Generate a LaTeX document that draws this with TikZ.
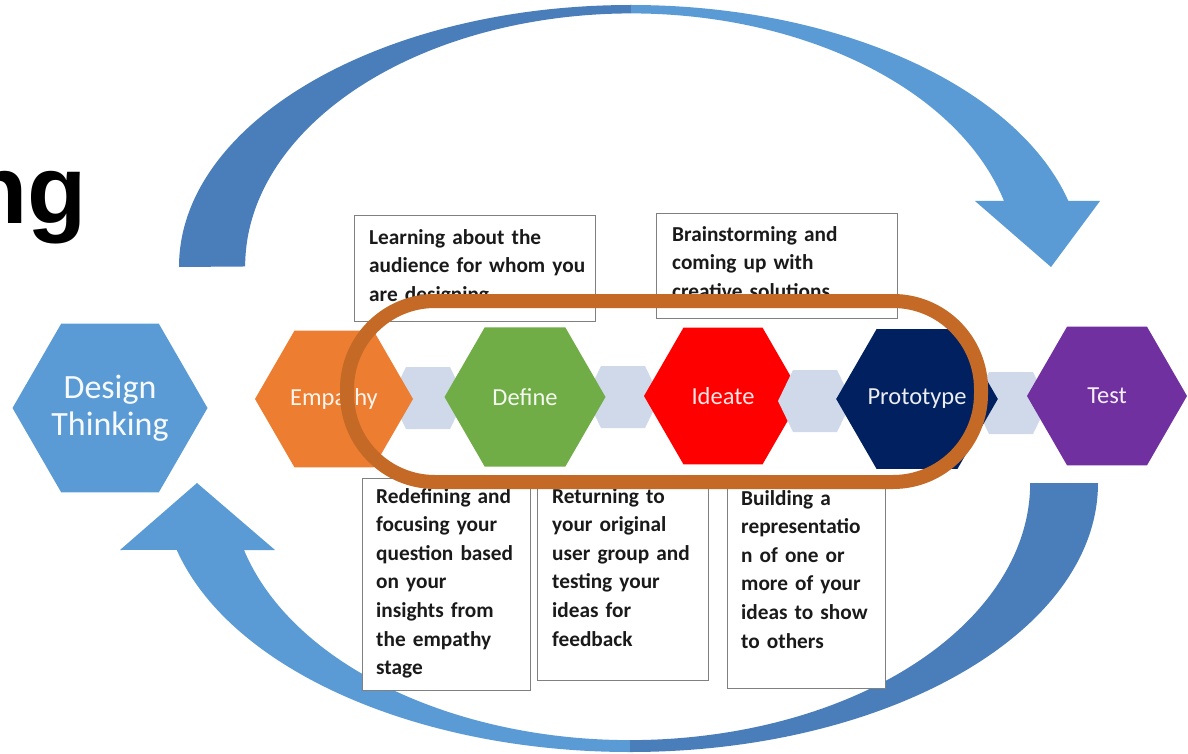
\documentclass[tikz,border=0pt]{standalone}
\usepackage{fontspec}
\setmainfont{Carlito}
\newfontfamily\titlefont{Liberation Sans}
\usetikzlibrary{shapes.geometric,calc}
\definecolor{arcdark}{HTML}{4A7EBB}
\definecolor{arclight}{HTML}{5B9BD5}
\definecolor{dtblue}{HTML}{5B9BD5}
\definecolor{emporange}{HTML}{ED7D31}
\definecolor{defgreen}{HTML}{70AD47}
\definecolor{idered}{HTML}{FF0000}
\definecolor{pronavy}{HTML}{002060}
\definecolor{testpurple}{HTML}{7030A0}
\definecolor{connfill}{HTML}{CFD9EA}
\definecolor{loopcol}{HTML}{C46A26}
\definecolor{boxline}{HTML}{808080}
\definecolor{boxtextcol}{HTML}{1A1A1A}
\def\dtTopArc{(179,267) arc[start angle=180, end angle=14.6, x radius=452pt, y radius=262pt]
  -- (1100,201) -- (1051,267) -- (975,201) -- (1004,201)
  arc[start angle=15, end angle=180, x radius=386pt, y radius=253pt] -- cycle}
\def\dtBotArc{(1098,483) arc[start angle=0, end angle=-165.6, x radius=468pt, y radius=269pt]
  -- (120,550) -- (197,483) -- (275,550) -- (244,550)
  arc[start angle=-164.9, end angle=0, x radius=400pt, y radius=257pt] -- cycle}
\newcommand\hexconn[1]{\fill[conn] ($(#1)+(-37,0)$) -- ++(15,-31) -- ++(44,0) -- ++(15,31) -- ++(-15,31) -- ++(-44,0) -- cycle;}
\begin{document}
\begin{tikzpicture}[x=1pt,y=-1pt,
  hexa/.style={regular polygon, regular polygon sides=6, inner sep=0pt, draw=none,
    text=white, font=\fontsize{24.5}{28}\selectfont},
  conn/.style={fill=connfill},
  infobox/.style={draw=boxline, line width=1.3pt, fill=white, anchor=north west, inner sep=0pt},
  infotext/.style={anchor=base west, align=left, inner sep=0pt, text=boxtextcol,
    font=\bfseries\fontsize{21.3}{28.6}\selectfont},
  loopline/.style={draw=loopcol, line width=14pt, rounded corners=88pt}]
\useasboundingbox (0,0) rectangle (1188,754);
\fill[white] (0,0) rectangle (1188,754);
\clip (0,0) rectangle (1188,754);

% partial title
\node[anchor=base east, inner sep=0pt, font=\titlefont\bfseries\fontsize{97}{100}\selectfont] (title) at (87,223) {ng};

% curved arrows
\begin{scope}
  \clip (0,0) rectangle (631,754);
  \fill[arcdark] \dtTopArc;
\end{scope}
\begin{scope}
  \clip (631,0) rectangle (1188,754);
  \fill[arclight] \dtTopArc;
\end{scope}
\begin{scope}
  \clip (0,0) rectangle (630,754);
  \fill[arclight] \dtBotArc;
\end{scope}
\begin{scope}
  \clip (630,0) rectangle (1188,754);
  \fill[arcdark] \dtBotArc;
\end{scope}

% text boxes
\node[infobox, minimum width=241pt, minimum height=106pt] (b1) at (354,215) {};
\node[infotext, text width=230pt] (t1) at (369,244) {Learning about the\\audience for whom you\\are designing};
\node[infobox, minimum width=241pt, minimum height=105pt] (b2) at (656,213) {};
\node[infotext, text width=220pt] (t2) at (672,241) {Brainstorming and\\coming up with\\creative solutions};
\node[infobox, minimum width=168pt, minimum height=212pt] (b3) at (362,478) {};
\node[infotext, text width=150pt] (t3) at (376,503) {Redefining and\\focusing your\\question based\\on your\\insights from\\the empathy\\stage};
\node[infobox, minimum width=171pt, minimum height=202pt] (b4) at (537,478) {};
\node[infotext, text width=150pt] (t4) at (552,503) {Returning to\\your original\\user group and\\testing your\\ideas for\\feedback};
\node[infobox, minimum width=158pt, minimum height=208pt] (b5) at (727,480) {};
\node[infotext, text width=140pt] (t5) at (741,505) {Building a\\representatio\\n of one or\\more of your\\ideas to show\\to others};

% connector shapes
\coordinate (c1) at (428,398);
\coordinate (c2) at (623,397);
\coordinate (c3) at (815,401);
\coordinate (c4) at (1011,403);
\hexconn{c1}
\hexconn{c2}
\hexconn{c4}

% hexagons
\node[hexa, fill=dtblue, minimum size=195pt, font=\fontsize{34}{37}\selectfont, align=center, text=white!95!dtblue] (dt) at (110,408) {Design\\Thinking};
\node[hexa, fill=emporange, minimum size=158pt, text=white!92!emporange] (emp) at (334,399) {Empathy};
\node[hexa, fill=defgreen, minimum size=161pt, text=white!92!defgreen] (def) at (525,397) {Define};
\node[hexa, fill=idered, minimum size=158pt, text=white!90!idered] (ide) at (723,396) {Ideate};
\hexconn{c3}
\node[hexa, fill=pronavy, minimum size=160pt, text=white!92!pronavy] (pro) at (917,399) {Prototype};
\node[hexa, fill=testpurple, minimum size=160pt, text=white!92!testpurple] (tst) at (1107,396) {Test};

% highlight loop
\draw[loopline] (347,301) rectangle (981,482);
\end{tikzpicture}
\end{document}
